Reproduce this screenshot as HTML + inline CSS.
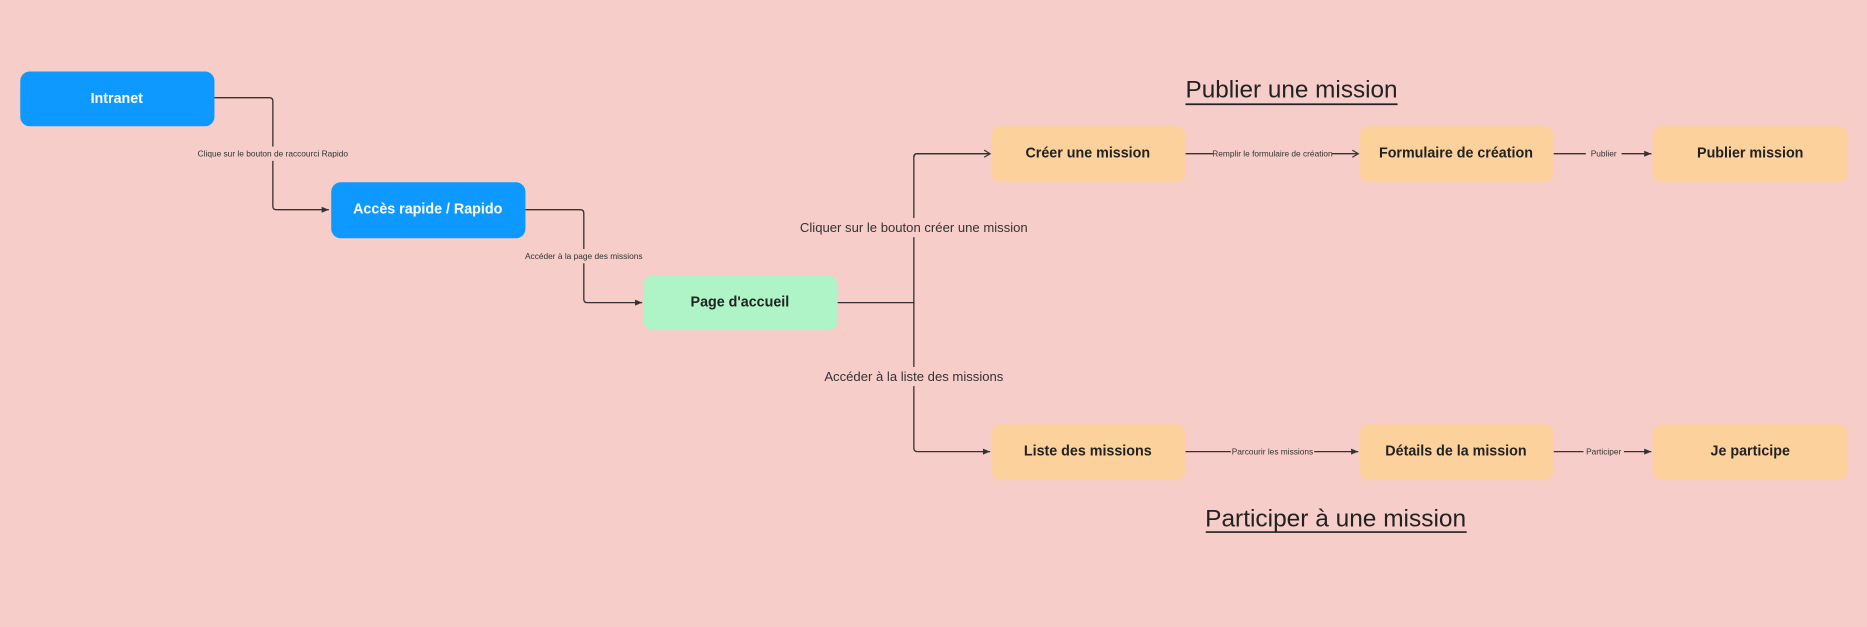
<!DOCTYPE html>
<html><head><meta charset="utf-8"><style>
html,body{margin:0;padding:0;background:#f6cdc9;overflow:hidden;}
svg{display:block;font-family:"Liberation Sans",sans-serif;}
.n{font-weight:bold;font-size:12px;text-anchor:middle;dominant-baseline:central;}
.l{font-size:7px;fill:#333;text-anchor:middle;dominant-baseline:central;}
.L{font-size:11px;fill:#333;text-anchor:middle;dominant-baseline:central;}
.c{stroke:#333;stroke-width:1.1;fill:none;}
</style></head><body>
<svg width="1867" height="627" viewBox="0 0 1567 526.2" preserveAspectRatio="none">
<defs>
<marker id="a" markerWidth="8" markerHeight="8" refX="7" refY="4" orient="auto" markerUnits="userSpaceOnUse"><path d="M1,1.5 L7,4 L1,6.5 Z" fill="#333"/></marker>
<marker id="o" markerWidth="8" markerHeight="8" refX="7" refY="4" orient="auto" markerUnits="userSpaceOnUse"><path d="M2,1 L7,4 L2,7" fill="none" stroke="#333" stroke-width="1"/></marker>
</defs>
<rect width="1567" height="527" fill="#f6cdc9"/>
<path class="c" d="M180,82 H226 Q229,82 229,85 V173 Q229,176 232,176 H276" marker-end="url(#a)"/>
<rect x="168" y="123" width="122" height="12" fill="#f6cdc9"/>
<text class="l" x="229" y="129">Clique sur le bouton de raccourci Rapido</text>
<path class="c" d="M441,176 H487 Q490,176 490,179 V251 Q490,254 493,254 H539" marker-end="url(#a)"/>
<rect x="442" y="209" width="98" height="12" fill="#f6cdc9"/>
<text class="l" x="490" y="215">Accéder à la page des missions</text>
<path class="c" d="M703,254 H767"/>
<path class="c" d="M831,129 H770 Q767,129 767,132 V376 Q767,379 770,379 H831" marker-end="url(#a)"/>
<path class="c" d="M767,132 Q767,129 770,129 H831" marker-end="url(#o)"/>
<rect x="680" y="183" width="175" height="16" fill="#f6cdc9"/>
<text class="L" x="767" y="191">Cliquer sur le bouton créer une mission</text>
<rect x="698" y="308" width="138" height="16" fill="#f6cdc9"/>
<text class="L" x="767" y="316">Accéder à la liste des missions</text>
<path class="c" d="M995,129 H1140" marker-end="url(#o)"/>
<rect x="1018" y="123" width="100" height="12" fill="#f6cdc9"/>
<text class="l" x="1068" y="129">Remplir le formulaire de création</text>
<path class="c" d="M1304,129 H1386" marker-end="url(#a)"/>
<rect x="1331" y="123" width="30" height="12" fill="#f6cdc9"/>
<text class="l" x="1346" y="129">Publier</text>
<path class="c" d="M995,379 H1140" marker-end="url(#a)"/>
<rect x="1033" y="373" width="70" height="12" fill="#f6cdc9"/>
<text class="l" x="1068" y="379">Parcourir les missions</text>
<path class="c" d="M1304,379 H1386" marker-end="url(#a)"/>
<rect x="1329" y="373" width="34" height="12" fill="#f6cdc9"/>
<text class="l" x="1346" y="379">Participer</text>
<rect x="17" y="60" width="163" height="46" rx="8" fill="#0d99ff"/>
<text class="n" x="98" y="83" fill="#fff">Intranet</text>
<rect x="278" y="153" width="163" height="47" rx="8" fill="#0d99ff"/>
<text class="n" x="359" y="176" fill="#fff">Accès rapide / Rapido</text>
<rect x="540" y="231" width="163" height="46" rx="8" fill="#aff4c6"/>
<text class="n" x="621" y="254" fill="#222">Page d'accueil</text>
<g fill="#fcd19c">
<rect x="832" y="106" width="163" height="47" rx="8"/>
<rect x="1141" y="106" width="163" height="47" rx="8"/>
<rect x="1387" y="106" width="164" height="47" rx="8"/>
<rect x="832" y="356" width="163" height="47" rx="8"/>
<rect x="1141" y="356" width="163" height="47" rx="8"/>
<rect x="1387" y="356" width="164" height="47" rx="8"/>
</g>
<g fill="#222">
<text class="n" x="913" y="129">Créer une mission</text>
<text class="n" x="1222" y="129">Formulaire de création</text>
<text class="n" x="1469" y="129">Publier mission</text>
<text class="n" x="913" y="379">Liste des missions</text>
<text class="n" x="1222" y="379">Détails  de la mission</text>
<text class="n" x="1469" y="379">Je participe</text>
</g>
<text x="1084" y="82" font-size="20" fill="#222" text-anchor="middle" textLength="178" lengthAdjust="spacingAndGlyphs">Publier une mission</text>
<line x1="995" y1="87.5" x2="1173" y2="87.5" stroke="#222" stroke-width="1.4"/>
<text x="1121" y="442" font-size="20" fill="#222" text-anchor="middle" textLength="219" lengthAdjust="spacingAndGlyphs">Participer à une mission</text>
<line x1="1012" y1="446.5" x2="1231" y2="446.5" stroke="#222" stroke-width="1.4"/>
</svg>
</body></html>
